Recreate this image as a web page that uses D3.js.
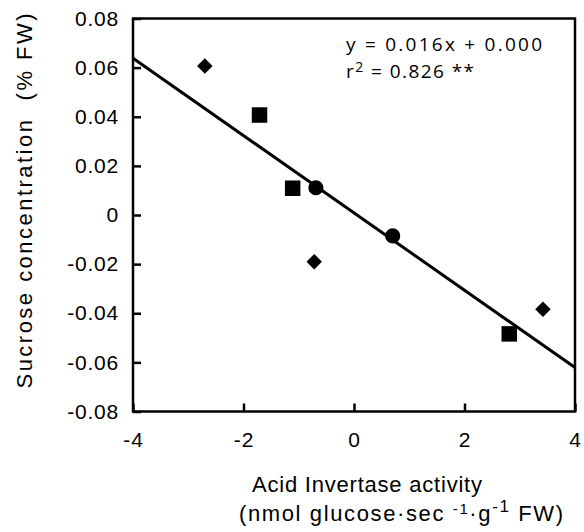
<!DOCTYPE html>
<html>
<head>
<meta charset="utf-8">
<script src="https://cdn.jsdelivr.net/npm/d3@7"></script>
<style>
  body { margin: 0; background: #fff; }
  text { font-family: "Liberation Sans", Arial, sans-serif; fill: #000; }
  .tick text { font-size: 21px; letter-spacing: 0.8px; }
  .eq { font-family: "Open Sans", sans-serif; font-size: 19px; }
  .title { font-size: 22px; white-space: pre; }
</style>
</head>
<body>
<svg id="chart"></svg>
<script>
const chartSize = { width: 584, height: 532 };
const margin = { left: 133, right: 9, top: 18.5, bottom: 120.5 };
const width = chartSize.width - margin.left - margin.right;
const height = chartSize.height - margin.top - margin.bottom;

// data
const diamondX = [-2.70, -0.72, 3.42];
const diamondY = [0.0607, -0.0190, -0.0384];
const squareX = [-1.71, -1.11, 2.81];
const squareY = [0.0407, 0.0109, -0.0484];
const circleX = [-0.69, 0.70];
const circleY = [0.0111, -0.0085];
const fitX = [-4, 4];
const fitY = [0.0638, -0.0621];
const xTicks = [-4, -2, 0, 2, 4];
const yTicks = [0.08, 0.06, 0.04, 0.02, 0, -0.02, -0.04, -0.06, -0.08];

const svg = d3.select("#chart")
  .attr("width", chartSize.width)
  .attr("height", chartSize.height);

const g = svg.append("g")
  .attr("transform", `translate(${margin.left},${margin.top})`);

const x = d3.scaleLinear().domain([-4, 4]).range([0, width]);
const y = d3.scaleLinear().domain([-0.08, 0.08]).range([height, 0]);

const fmtY = d => d === 0 ? "0" : d3.format(".2f")(d).replace("−", "-");

const xAxis = d3.axisBottom(x).tickValues(xTicks).tickSizeInner(-8).tickSizeOuter(0)
  .tickPadding(21).tickFormat(d => String(d));
const yAxis = d3.axisLeft(y).tickValues(yTicks).tickSizeInner(-8).tickSizeOuter(0)
  .tickPadding(14).tickFormat(fmtY);

const gx = g.append("g").attr("transform", `translate(0,${height})`).call(xAxis);
const gy = g.append("g").call(yAxis);
[gx, gy].forEach(a => {
  a.select(".domain").remove();
  a.selectAll(".tick line").attr("stroke", "#000").attr("stroke-width", 2.5);
});

// frame
g.append("rect")
  .attr("width", width).attr("height", height)
  .attr("fill", "none").attr("stroke", "#000").attr("stroke-width", 2.5);

// regression line
g.append("path")
  .attr("d", d3.line().x(d => x(d[0])).y(d => y(d[1]))(d3.zip(fitX, fitY)))
  .attr("stroke", "#000").attr("stroke-width", 3).attr("fill", "none");

const sym = (type, size, xs, ys, rot) => {
  g.selectAll(null)
    .data(d3.zip(xs, ys))
    .enter().append("path")
    .attr("d", d3.symbol().type(type).size(size))
    .attr("transform", d => `translate(${x(d[0])},${y(d[1])}) rotate(${rot})`)
    .attr("fill", "#000");
};
sym(d3.symbolSquare, 240, squareX, squareY, 0);
sym(d3.symbolCircle, 180, circleX, circleY, 0);
sym(d3.symbolSquare, 120, diamondX, diamondY, 45);

// equation
svg.append("text").attr("class", "eq").attr("x", 346).attr("y", 51)
  .attr("textLength", 196).attr("lengthAdjust", "spacing")
  .text("y = 0.016x + 0.000");
const r2 = svg.append("text").attr("class", "eq").attr("x", 346).attr("y", 78)
  .attr("textLength", 128).attr("lengthAdjust", "spacing");
r2.append("tspan").text("r");
r2.append("tspan").attr("dy", -6).attr("font-size", 14).text("2");
r2.append("tspan").attr("dy", 6).text(" = 0.826 **");

// axis titles
svg.append("text").attr("class", "title")
  .attr("transform", "translate(32,201) rotate(-90)")
  .attr("text-anchor", "middle")
  .attr("textLength", 375).attr("lengthAdjust", "spacing")
  .text("Sucrose concentration  (% FW)");

svg.append("text").attr("class", "title")
  .attr("x", 252).attr("y", 492)
  .attr("textLength", 230).attr("lengthAdjust", "spacing")
  .text("Acid Invertase activity");

const xl = svg.append("text").attr("class", "title")
  .attr("x", 239).attr("y", 521)
  .attr("textLength", 324).attr("lengthAdjust", "spacing");
xl.append("tspan").text("(nmol glucose·sec ");
xl.append("tspan").attr("dy", -7).attr("font-size", 15).text("-1");
xl.append("tspan").attr("dy", 7).text("·g");
xl.append("tspan").attr("dy", -9).attr("font-size", 17).text("-1");
xl.append("tspan").attr("dy", 9).text(" FW)");
</script>
</body>
</html>
